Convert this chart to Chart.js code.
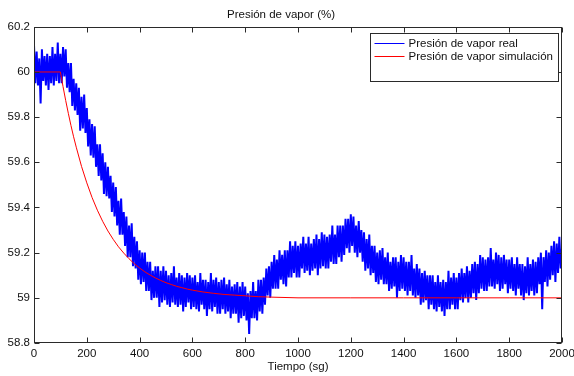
<!DOCTYPE html>
<html><head><meta charset="utf-8">
<script src="https://cdn.jsdelivr.net/npm/chart.js@4/dist/chart.umd.min.js"></script>
<style>html,body{margin:0;padding:0;background:#fff}canvas{display:block}</style>
</head><body>
<canvas id="c" width="574" height="376"></canvas>
<script>
const chartTitle = 'Presión de vapor (%)';
const xAxisTitle = 'Tiempo (sg)';
const seriesNames = ['Presión de vapor real', 'Presión de vapor simulación'];
const xTickValues = [0, 200, 400, 600, 800, 1000, 1200, 1400, 1600, 1800, 2000];
const xTickLabels = ['0', '200', '400', '600', '800', '1000', '1200', '1400', '1600', '1800', '2000'];
const yTickValues = [58.8, 59, 59.2, 59.4, 59.6, 59.8, 60, 60.2];
const yTickLabels = ['58.8', '59', '59.2', '59.4', '59.6', '59.8', '60', '60.2'];

// measured signal, one sample every 5 s from 0 to 2000 s
const realSampleStep = 5;
const realValues = [
60.12,59.95,60.09,59.94,60.06,59.86,60.10,59.96,60.07,59.94,60.08,59.92,60.07,59.95,60.11,59.94,60.08,59.96,60.13,59.95,
60.08,59.95,60.11,59.98,60.10,59.93,60.04,59.91,60.04,59.85,59.97,59.83,59.95,59.81,59.93,59.74,59.89,59.75,59.90,59.73,
59.84,59.67,59.79,59.63,59.77,59.62,59.76,59.58,59.68,59.54,59.68,59.52,59.64,59.46,59.60,59.45,59.58,59.44,59.54,59.38,
59.51,59.36,59.49,59.32,59.43,59.28,59.44,59.28,59.38,59.23,59.36,59.18,59.32,59.18,59.33,59.14,59.27,59.13,59.25,59.08,
59.21,59.06,59.20,59.07,59.20,59.03,59.16,59.03,59.16,58.99,59.12,59.00,59.14,59.00,59.14,58.96,59.12,58.98,59.14,58.99,
59.12,58.97,59.10,58.96,59.11,58.98,59.14,58.97,59.09,58.96,59.11,58.97,59.10,58.94,59.09,58.96,59.11,58.98,59.10,58.95,
59.09,58.96,59.10,58.95,59.07,58.94,59.11,58.97,59.08,58.95,59.08,58.92,59.07,58.95,59.11,58.94,59.08,58.96,59.09,58.93,
59.07,58.93,59.08,58.95,59.09,58.93,59.06,58.94,59.08,58.91,59.05,58.93,59.06,58.93,59.07,58.89,59.05,58.91,59.07,58.92,
59.05,58.90,59.02,58.84,59.03,58.91,59.07,58.91,59.03,58.90,59.08,58.94,59.08,58.93,59.09,58.97,59.13,59.01,59.14,59.00,
59.16,59.04,59.19,59.04,59.17,59.04,59.21,59.08,59.19,59.06,59.21,59.05,59.21,59.09,59.25,59.09,59.23,59.11,59.25,59.09,
59.23,59.09,59.24,59.13,59.27,59.11,59.24,59.12,59.27,59.10,59.24,59.12,59.26,59.13,59.28,59.10,59.26,59.13,59.29,59.14,
59.28,59.13,59.27,59.13,59.28,59.16,59.32,59.15,59.28,59.15,59.32,59.18,59.32,59.16,59.32,59.19,59.35,59.22,59.35,59.20,
59.37,59.23,59.36,59.20,59.32,59.18,59.34,59.20,59.30,59.16,59.29,59.12,59.26,59.13,59.28,59.10,59.23,59.11,59.23,59.07,
59.20,59.06,59.21,59.08,59.22,59.06,59.18,59.06,59.20,59.03,59.16,59.04,59.18,59.05,59.18,59.00,59.16,59.03,59.19,59.04,
59.18,59.03,59.16,59.01,59.16,59.03,59.19,59.01,59.13,59.00,59.15,59.01,59.13,58.97,59.11,58.98,59.12,58.99,59.10,58.95,
59.10,58.97,59.10,58.95,59.07,58.94,59.10,58.96,59.07,58.94,59.08,58.92,59.07,58.95,59.12,58.95,59.09,58.97,59.11,58.95,
59.09,58.95,59.11,58.99,59.13,58.98,59.11,59.00,59.14,58.98,59.12,59.00,59.15,59.02,59.16,58.99,59.15,59.02,59.19,59.04,
59.18,59.03,59.17,59.03,59.18,59.05,59.22,59.05,59.17,59.04,59.20,59.06,59.19,59.03,59.18,59.04,59.19,59.06,59.17,59.02,
59.17,59.04,59.18,59.03,59.15,59.01,59.18,59.04,59.15,59.01,59.15,58.99,59.14,59.02,59.18,59.01,59.15,59.03,59.17,59.01,
59.16,59.02,59.18,59.06,59.20,58.95,59.18,59.07,59.21,59.05,59.20,59.08,59.23,59.10,59.25,59.07,59.24,59.11,59.27,59.13,
59.22
];

// simulated response
const simTimes = [0,100,110,120,130,140,150,160,180,200,220,240,260,280,300,320,340,360,380,400,420,440,460,480,500,520,540,560,580,600,640,680,720,760,800,850,900,1000,1200,1400,1600,1800,2000];
const simValues = [60.0,60.0,59.935,59.874,59.817,59.763,59.713,59.667,59.582,59.509,59.444,59.388,59.339,59.296,59.259,59.226,59.198,59.173,59.151,59.132,59.115,59.101,59.088,59.077,59.067,59.059,59.051,59.045,59.039,59.034,59.026,59.020,59.015,59.012,59.009,59.005,59.003,59.0,59.0,59.0,59.0,59.0,59.0];

const FONT = 'Liberation Sans, Arial, Helvetica, sans-serif';
const TEXT = '#111';
const FRAME = '#2a2a2a';
const seriesColors = ['#0000ff', '#ff0000'];

const realData = realValues.map((v, i) => ({x: i * realSampleStep, y: v}));
const simData = simTimes.map((t, i) => ({x: t, y: simValues[i]}));

const framePlugin = {
  id: 'frame',
  afterDatasetsDraw(chart) {
    const {ctx, chartArea: a, scales: {x, y}} = chart;
    ctx.save();
    ctx.strokeStyle = FRAME;
    ctx.lineWidth = 1;
    const L = Math.round(a.left) + 0.5, R = Math.round(a.right) - 0.5;
    const T = Math.round(a.top) + 0.5, B = Math.round(a.bottom) - 0.5;
    ctx.strokeRect(L, T, R - L, B - T);
    const tl = 5;
    ctx.beginPath();
    xTickValues.forEach(v => {
      const px = Math.round(x.getPixelForValue(v)) + 0.5;
      ctx.moveTo(px, B); ctx.lineTo(px, B - tl);
      ctx.moveTo(px, T); ctx.lineTo(px, T + tl);
    });
    yTickValues.forEach(v => {
      const py = Math.round(y.getPixelForValue(v)) + 0.5;
      ctx.moveTo(L, py); ctx.lineTo(L + tl, py);
      ctx.moveTo(R, py); ctx.lineTo(R - tl, py);
    });
    ctx.stroke();
    // legend box
    const bx = Math.round(a.right) - 191.5, by = Math.round(a.top) + 6.5, bw = 188, bh = 48;
    ctx.fillStyle = '#fff';
    ctx.fillRect(bx, by, bw, bh);
    ctx.strokeRect(bx, by, bw, bh);
    ctx.font = '11.5px ' + FONT;
    ctx.textBaseline = 'middle';
    ctx.textAlign = 'left';
    const rows = [by + 9, by + 22.5];
    seriesNames.forEach((name, i) => {
      const ly = Math.round(rows[i]) + 0.5;
      ctx.strokeStyle = seriesColors[i];
      ctx.beginPath(); ctx.moveTo(bx + 4, ly); ctx.lineTo(bx + 34, ly); ctx.stroke();
      ctx.fillStyle = TEXT;
      ctx.fillText(name, bx + 38, ly + 0.5);
    });
    ctx.restore();
  }
};

new Chart(document.getElementById('c'), {
  type: 'line',
  data: {
    datasets: [
      {label: seriesNames[0], data: realData, borderColor: seriesColors[0], borderWidth: 2, pointRadius: 0, tension: 0, order: 2},
      {label: seriesNames[1], data: simData, borderColor: seriesColors[1], borderWidth: 1, pointRadius: 0, tension: 0, order: 1}
    ]
  },
  options: {
    responsive: false,
    animation: false,
    events: [],
    layout: {padding: {left: 0, right: 12, top: 0, bottom: 0}},
    plugins: {
      legend: {display: false},
      tooltip: {enabled: false},
      title: {display: true, text: chartTitle, color: TEXT, font: {family: FONT, size: 11.5, weight: 'normal'}, padding: {top: 8, bottom: 5}}
    },
    scales: {
      x: {
        type: 'linear', min: 0, max: 2000,
        afterBuildTicks: s => { s.ticks = xTickValues.map(v => ({value: v})); },
        afterFit: s => { s.height = 33; s.paddingRight = 0; s.paddingLeft = 0; },
        grid: {display: false, drawTicks: false},
        border: {display: false},
        ticks: {color: TEXT, font: {family: FONT, size: 11.5}, padding: 4, maxRotation: 0, autoSkip: false,
          callback: (v) => xTickLabels[xTickValues.indexOf(v)]},
        title: {display: true, text: xAxisTitle, color: TEXT, font: {family: FONT, size: 11.5}, padding: {top: 0, bottom: 2}}
      },
      y: {
        type: 'linear', min: 58.8, max: 60.2,
        afterBuildTicks: s => { s.ticks = yTickValues.map(v => ({value: v})); },
        afterFit: s => { s.width = 34; s.paddingTop = 0; s.paddingBottom = 0; },
        grid: {display: false, drawTicks: false},
        border: {display: false},
        ticks: {color: TEXT, font: {family: FONT, size: 11.5}, padding: 4, autoSkip: false,
          callback: (v) => { const i = yTickValues.findIndex(t => Math.abs(t - v) < 1e-9); return i >= 0 ? yTickLabels[i] : ''; }}
      }
    }
  },
  plugins: [framePlugin]
});
</script>
</body></html>
